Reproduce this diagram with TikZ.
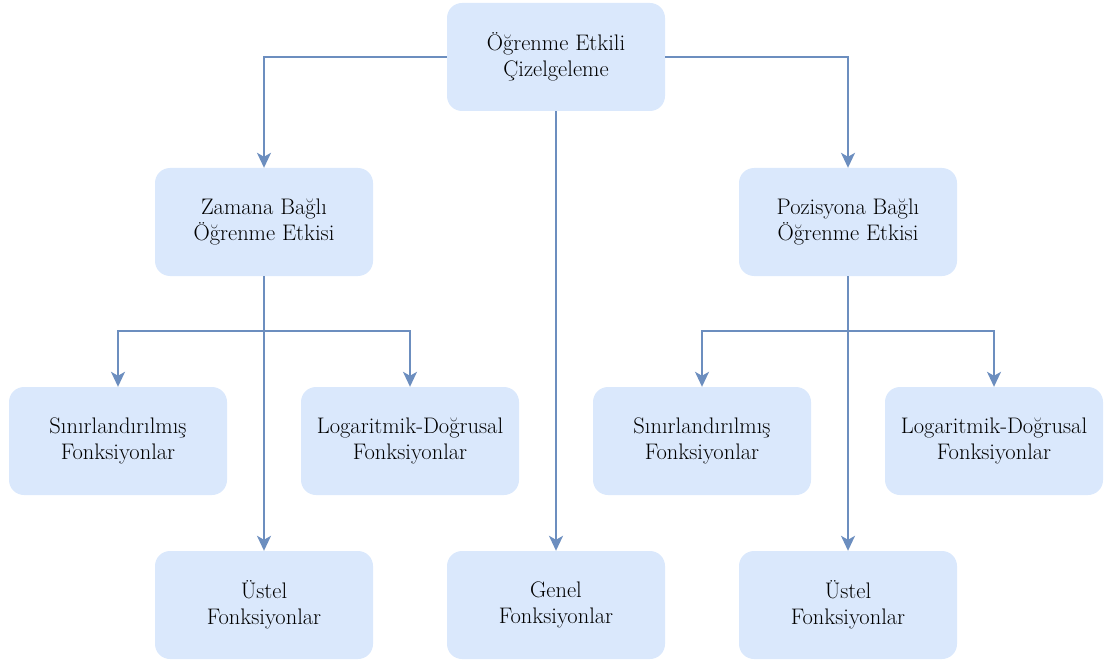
\documentclass[tikz,border=0pt]{standalone}
\usetikzlibrary{arrows.meta}
\definecolor{boxfill}{HTML}{DAE8FC}
\definecolor{edge}{HTML}{6C8EBF}
\begin{document}
\begin{tikzpicture}[x=1pt,y=-1pt,
  box/.style={fill=boxfill, draw=none, rounded corners=15pt, minimum width=218pt, minimum height=108pt,
    align=center, font=\fontsize{22.5}{26}\selectfont, text=black},
  conn/.style={draw=edge, line width=1.8pt, -{Stealth[width=14pt,length=15pt,inset=4pt]}}]
\useasboundingbox (0,0) rectangle (1105,663);
\node[box] (top) at (556,57) {Öğrenme Etkili\\Çizelgeleme};
\node[box] (zam) at (264,222) {Zamana Bağlı\\Öğrenme Etkisi};
\node[box] (poz) at (848,222) {Pozisyona Bağlı\\Öğrenme Etkisi};
\node[box] (s1) at (118,441) {Sınırlandırılmış\\Fonksiyonlar};
\node[box] (l1) at (410,441) {Logaritmik-Doğrusal\\Fonksiyonlar};
\node[box] (s2) at (702,441) {Sınırlandırılmış\\Fonksiyonlar};
\node[box] (l2) at (994,441) {Logaritmik-Doğrusal\\Fonksiyonlar};
\node[box] (u1) at (264,605) {Üstel\\Fonksiyonlar};
\node[box] (gen) at (556,605) {Genel\\Fonksiyonlar};
\node[box] (u2) at (848,605) {Üstel\\Fonksiyonlar};
\coordinate (jz) at (264,331);
\coordinate (jp) at (848,331);
\draw[conn] (top.west) -| (zam.north);
\draw[conn] (top.east) -| (poz.north);
\draw[conn] (top.south) -- (gen.north);
\draw[conn] (zam.south) -- (u1.north);
\draw[conn] (jz) -| (s1.north);
\draw[conn] (jz) -| (l1.north);
\draw[conn] (poz.south) -- (u2.north);
\draw[conn] (jp) -| (s2.north);
\draw[conn] (jp) -| (l2.north);
\end{tikzpicture}
\end{document}
